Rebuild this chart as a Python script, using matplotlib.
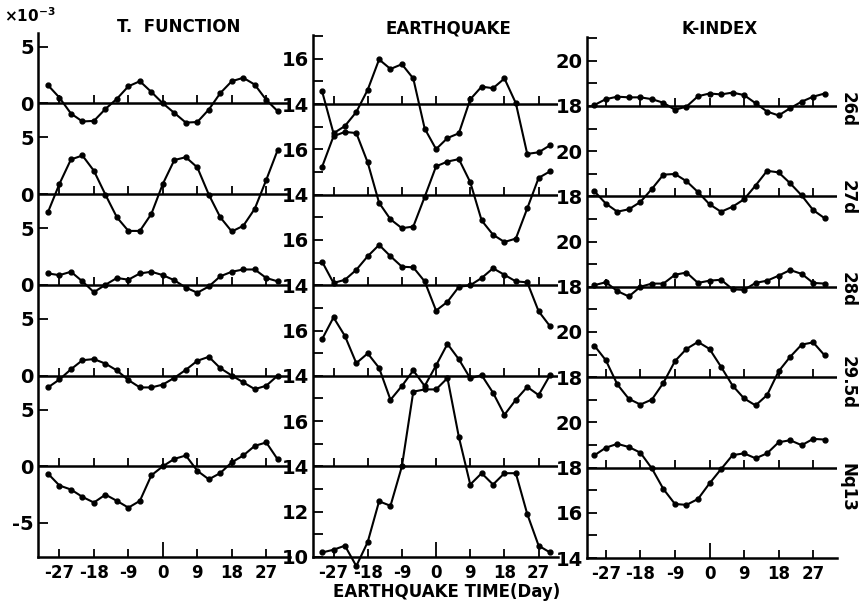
import numpy as np
import matplotlib.pyplot as plt

plt.rcParams['font.family'] = ['Liberation Sans Narrow', 'DejaVu Sans']
plt.rcParams['font.weight'] = 'bold'

W, H = 861, 608

days = np.arange(-30, 31, 3)
xticks = [-27, -18, -9, 0, 9, 18, 27]
row_names = ['26d', '27d', '28d', '29.5d', 'Nq13']

# T. FUNCTION (x10^-3), one list per period
tf_26d = [1.6, 0.5, -0.9, -1.6, -1.55, -0.5, 0.4, 1.5, 1.95, 1.0, 0.0,
          -0.85, -1.7, -1.65, -0.55, 0.9, 1.95, 2.25, 1.65, 0.3, -0.7]
tf_27d = [-1.6, 0.9, 3.05, 3.4, 2.05, -0.05, -2.05, -3.25, -3.25, -1.75, 0.9,
          3.0, 3.25, 2.35, -0.05, -2.05, -3.3, -2.8, -1.3, 1.25, 3.9]
tf_28d = [1.0, 0.85, 1.15, 0.3, -0.65, 0.0, 0.6, 0.45, 1.0, 1.15, 0.85,
          0.4, -0.25, -0.7, -0.15, 0.75, 1.15, 1.35, 1.35, 0.6, 0.3]
tf_295d = [-1.05, -0.35, 0.55, 1.35, 1.45, 1.05, 0.45, -0.4, -1.05, -1.05, -0.8,
           -0.2, 0.5, 1.3, 1.65, 0.65, 0.0, -0.6, -1.2, -0.9, 0.0]
tf_nq13 = [-0.65, -1.7, -2.05, -2.7, -3.2, -2.5, -3.05, -3.65, -3.05, -0.8, 0.0,
           0.65, 0.95, -0.4, -1.15, -0.6, 0.35, 0.95, 1.8, 2.1, 0.6]

# EARTHQUAKE
eq_26d = [14.56, 12.71, 13.03, 13.65, 14.63, 15.97, 15.55, 15.76, 15.13, 12.92, 12.01,
          12.5, 12.71, 14.21, 14.77, 14.7, 15.13, 14.04, 11.8, 11.87, 12.18]
eq_27d = [15.23, 16.58, 16.77, 16.72, 15.42, 13.64, 12.91, 12.52, 12.59, 13.9, 15.25,
          15.46, 15.57, 14.55, 12.86, 12.23, 11.91, 12.06, 13.39, 14.74, 15.03]
eq_28d = [15.04, 14.1, 14.24, 14.68, 15.28, 15.78, 15.28, 14.82, 14.79, 14.17, 12.88,
          13.27, 13.93, 14.0, 14.32, 14.75, 14.46, 14.17, 14.13, 12.85, 12.19]
eq_295d = [15.62, 16.58, 15.76, 14.56, 14.99, 14.35, 12.94, 13.55, 14.24, 13.55, 14.46,
           15.41, 14.73, 13.89, 14.03, 13.25, 12.28, 12.94, 13.51, 13.15, 14.03]
eq_nq13 = [10.2, 10.32, 10.5, 9.6, 10.66, 12.46, 12.26, 14.0, 17.3, 17.4, 17.4,
           17.9, 15.3, 13.2, 13.7, 13.2, 13.7, 13.7, 11.9, 10.5, 10.2]

# K-INDEX
k_26d = [18.04, 18.3, 18.41, 18.38, 18.38, 18.3, 18.14, 17.83, 17.97, 18.43, 18.55,
         18.51, 18.59, 18.48, 18.12, 17.75, 17.58, 17.9, 18.19, 18.41, 18.55]
k_27d = [18.23, 17.68, 17.32, 17.43, 17.75, 18.33, 18.96, 18.99, 18.67, 18.19, 17.65,
         17.32, 17.54, 17.87, 18.48, 19.13, 19.06, 18.58, 18.04, 17.39, 17.03]
k_28d = [18.07, 18.2, 17.81, 17.57, 18.0, 18.14, 18.14, 18.53, 18.63, 18.17, 18.27,
         18.31, 17.89, 17.86, 18.17, 18.27, 18.49, 18.74, 18.57, 18.17, 18.14]
k_295d = [19.4, 18.75, 17.68, 17.04, 16.79, 17.01, 17.75, 18.71, 19.25, 19.56, 19.25,
          18.46, 17.63, 17.06, 16.75, 17.21, 18.26, 18.9, 19.44, 19.54, 18.96]
k_nq13 = [18.54, 18.88, 19.05, 18.91, 18.66, 17.96, 17.05, 16.39, 16.35, 16.61, 17.3,
          17.93, 18.55, 18.63, 18.41, 18.63, 19.12, 19.21, 18.99, 19.27, 19.24]


def px_axes(x0, y0, x1, y1):
    return fig.add_axes([x0 / W, 1 - y1 / H, (x1 - x0) / W, (y1 - y0) / H])


def panel(ax, rows, offsets, base, xlim, ylim, yticks, ylabels):
    for vals, off in zip(rows, offsets):
        ax.axhline(base + off, color='k', lw=1.8, zorder=1)
        ax.plot(xticks, [base + off] * len(xticks), ls='none', marker=2,
                ms=6, mew=1.3, color='k')
        ax.plot(days, np.array(vals) + off, '-o', color='k', lw=1.5, ms=3.5,
                clip_on=False, zorder=3)
    ax.set_xlim(*xlim)
    ax.set_ylim(*ylim)
    for s in ['top', 'right']:
        ax.spines[s].set_visible(False)
    for s in ['left', 'bottom']:
        ax.spines[s].set_linewidth(1.8)
    ax.set_xticks(xticks)
    ax.set_xticklabels([str(t) for t in xticks], fontsize=12)
    ax.set_yticks(yticks)
    ax.set_yticklabels(ylabels, fontsize=14)
    ax.tick_params(axis='x', direction='in', length=6, width=1.3, pad=5)
    ax.tick_params(axis='y', direction='in', length=7, width=1.3, pad=3)
    ax.xaxis.get_major_ticks()[3].tick1line.set_markersize(11)
    ax.patch.set_alpha(0)


fig = plt.figure(figsize=(W / 100, H / 100), dpi=100)

# left panel
ax1 = px_axes(38, 33, 290, 557)
lt = [37, 32, 29, 24, 21, 16, 13, 8, 5, 0, -5]
ll = ['5', '0', '5', '0', '5', '0', '5', '0', '5', '0', '-5']
panel(ax1, [tf_26d, tf_27d, tf_28d, tf_295d, tf_nq13], [32, 24, 16, 8, 0], 0,
      (-32.6, 33.2), (-8, 38.2), lt, ll)

# middle panel
ax2 = px_axes(313, 35, 558, 557)
mt = list(range(10, 34))
ml = [(str(v) if v <= 12 else ('16' if v % 4 == 0 else '14')) if v % 2 == 0 else ''
      for v in mt]
panel(ax2, [eq_26d, eq_27d, eq_28d, eq_295d, eq_nq13], [16, 12, 8, 4, 0], 14,
      (-32.4, 32.1), (10, 33.05), mt, ml)

# right panel
ax3 = px_axes(587, 37, 837, 558)
rt = list(range(14, 38))
rl = [(str(v) if v <= 16 else ('20' if v % 4 == 0 else '18')) if v % 2 == 0 else ''
      for v in rt]
panel(ax3, [k_26d, k_27d, k_28d, k_295d, k_nq13], [16, 12, 8, 4, 0], 18,
      (-31.9, 33.2), (14, 37.05), rt, rl)

fig.text(179 / W, 1 - 27 / H, 'T.  FUNCTION', ha='center', va='center', fontsize=12)
fig.text(448 / W, 1 - 28 / H, 'EARTHQUAKE', ha='center', va='center', fontsize=12)
fig.text(720 / W, 1 - 29 / H, 'K-INDEX', ha='center', va='center', fontsize=12)
fig.text(4 / W, 1 - 16 / H, r'$\times10^{-3}$', ha='left', va='center', fontsize=11)
fig.text(447 / W, 1 - 592 / H, 'EARTHQUAKE TIME(Day)', ha='center', va='center',
         fontsize=12)

for name, yc in zip(row_names, [110, 198, 290, 382, 487]):
    fig.text(848 / W, 1 - yc / H, name, rotation=270, ha='center', va='center',
             fontsize=12)

fig.savefig('out.png', dpi=100, facecolor='white')
